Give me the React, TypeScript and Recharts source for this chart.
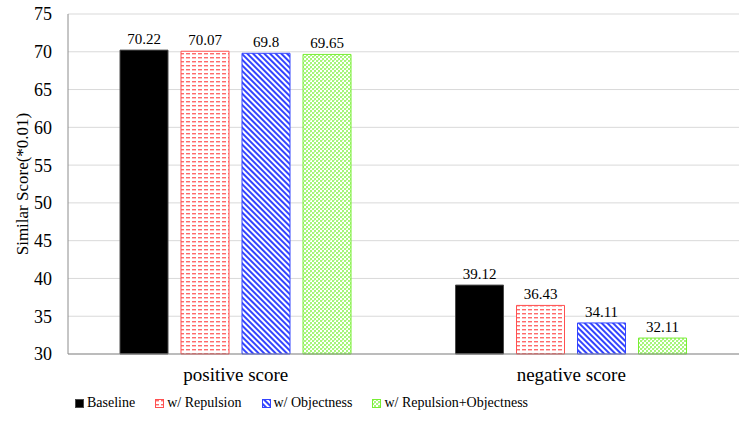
import { BarChart, Bar, XAxis, YAxis, CartesianGrid, LabelList, Label } from "recharts";

const categories: string[] = ["positive score", "negative score"];
const baseline: number[] = [70.22, 39.12];
const repulsion: number[] = [70.07, 36.43];
const objectness: number[] = [69.8, 34.11];
const repulsionObjectness: number[] = [69.65, 32.11];
const yTicks: number[] = [30, 35, 40, 45, 50, 55, 60, 65, 70, 75];

const data = categories.map((name, i) => ({
  name,
  baseline: baseline[i],
  repulsion: repulsion[i],
  objectness: objectness[i],
  both: repulsionObjectness[i],
}));

const serif = "Liberation Serif, DejaVu Serif, serif";

const series = [
  { key: "baseline", name: "Baseline", fill: "#000000", stroke: "#4a4a4a" },
  { key: "repulsion", name: "w/ Repulsion", fill: "url(#patRed)", stroke: "#ff5050" },
  { key: "objectness", name: "w/ Objectness", fill: "url(#patBlue)", stroke: "#3344ff" },
  { key: "both", name: "w/ Repulsion+Objectness", fill: "url(#patGreen)", stroke: "#77ee33" },
];

const Patterns = () => (
  <svg width={0} height={0} style={{ position: "absolute" }}>
    <defs>
      <pattern id="patRed" width={6} height={4} patternUnits="userSpaceOnUse">
        <rect x={0} y={0} width={6} height={4} fill="#ffffff" />
        <rect x={0} y={1} width={4} height={1} fill="#ff6a6a" />
        <rect x={0} y={2} width={4} height={1} fill="#ffc0c0" />
      </pattern>
      <pattern id="patBlue" width={4} height={4} patternUnits="userSpaceOnUse" patternTransform="rotate(-45)">
        <rect x={0} y={0} width={4} height={4} fill="#ffffff" />
        <rect x={0} y={0} width={2} height={4} fill="#3344ff" />
      </pattern>
      <pattern id="patGreen" width={4} height={4} patternUnits="userSpaceOnUse">
        <rect x={0} y={0} width={4} height={4} fill="#ffffff" />
        <rect x={0} y={0} width={2} height={2} fill="#a6f57a" />
        <rect x={2} y={2} width={2} height={2} fill="#a6f57a" />
        <rect x={2} y={0} width={1} height={1} fill="#d6fcc0" />
      </pattern>
    </defs>
  </svg>
);

const MyLegend = () => (
  <div
    style={{
      position: "absolute",
      left: 75,
      top: 394,
      display: "flex",
      alignItems: "center",
      fontFamily: serif,
      fontSize: 14,
      lineHeight: "18px",
      color: "#000",
      whiteSpace: "nowrap",
    }}
  >
    {series.map((s, i) => (
      <div key={s.key} style={{ display: "flex", alignItems: "center", marginRight: i < series.length - 1 ? 20 : 0 }}>
        <svg width={9} height={9} style={{ marginRight: 3 }}>
          <rect x={0.5} y={0.5} width={8} height={8} fill={s.fill} stroke={s.stroke} strokeWidth={1} />
        </svg>
        <span>{s.name}</span>
      </div>
    ))}
  </div>
);

const App = () => (
  <div style={{ position: "absolute", left: 0, top: 0, width: 747, height: 421, background: "#fff", fontFamily: serif }}>
    <Patterns />
    <BarChart
      width={747}
      height={421}
      data={data}
      margin={{ top: 14, right: 8, bottom: 37, left: 0 }}
      barCategoryGap={52}
      barGap={13}
      style={{ fontFamily: serif }}
    >
      <CartesianGrid vertical={false} stroke="#d9d9d9" />
      <XAxis
        dataKey="name"
        height={30}
        axisLine={{ stroke: "#8c8c8c" }}
        tickLine={false}
        tickMargin={8}
        tick={{ fontSize: 19, fill: "#000", style: { fontFamily: serif } }}
      />
      <YAxis
        width={68}
        domain={[30, 75]}
        ticks={yTicks}
        interval={0}
        axisLine={{ stroke: "#8c8c8c" }}
        tickLine={false}
        tickMargin={10}
        tick={{ fontSize: 18, fill: "#000", style: { fontFamily: serif } }}
      >
        <Label
          value="Similar Score(*0.01)"
          angle={-90}
          position="insideLeft"
          offset={0}
          dx={22}
          style={{ fontFamily: serif, fontSize: 17, fill: "#000", textAnchor: "middle" }}
        />
      </YAxis>
      {series.map((s) => (
        <Bar
          key={s.key}
          dataKey={s.key}
          name={s.name}
          fill={s.fill}
          stroke={s.stroke}
          strokeWidth={1}
          barSize={48}
          isAnimationActive={false}
        >
          <LabelList
            dataKey={s.key}
            position="top"
            offset={6}
            style={{ fontFamily: serif, fontSize: 15, fill: "#000" }}
          />
        </Bar>
      ))}
    </BarChart>
    <MyLegend />
  </div>
);

export default App;
